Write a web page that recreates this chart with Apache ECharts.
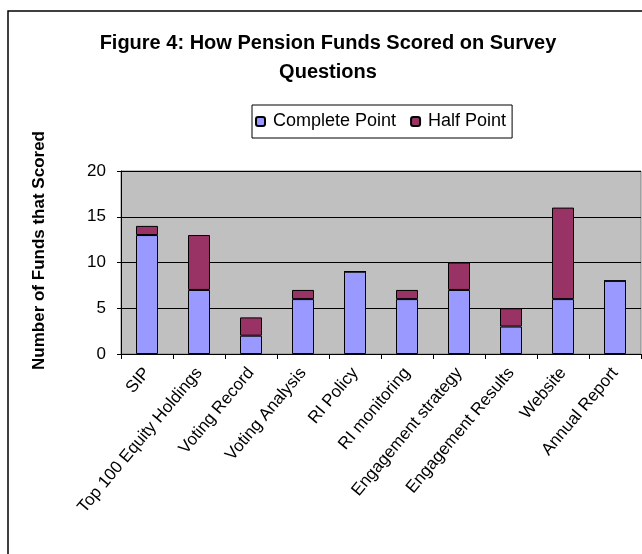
<!DOCTYPE html>
<html>
<head>
<meta charset="utf-8">
<script src="https://cdn.jsdelivr.net/npm/echarts@6/dist/echarts.min.js"></script>
<style>
  html, body { margin: 0; padding: 0; background: #ffffff; }
  #chart { width: 642px; height: 554px; }
</style>
</head>
<body>
<div id="chart"></div>
<script>
// Survey questions and how many funds scored on each
const categories = ['SIP', 'Top 100 Equity Holdings', 'Voting Record', 'Voting Analysis', 'RI Policy',
  'RI monitoring', 'Engagement strategy', 'Engagement Results', 'Website', 'Annual Report'];
const completePoint = [13, 7, 2, 6, 9, 6, 7, 3, 6, 8];
const halfPoint = [1, 6, 2, 1, 0, 1, 3, 2, 10, 0];
const yTicks = [0, 5, 10, 15, 20];

const FONT = '"Liberation Sans", Arial, sans-serif';

const chart = echarts.init(document.getElementById('chart'), null, { renderer: 'canvas' });

chart.setOption({
  backgroundColor: '#ffffff',
  animation: false,
  graphic: [{
    type: 'rect',
    shape: { x: 8, y: 11, width: 700, height: 600 },
    style: { fill: 'none', stroke: '#000000', lineWidth: 1.5 },
    silent: true
  }],
  title: {
    text: 'Figure 4: How Pension Funds Scored on Survey\nQuestions',
    left: 323,
    textAlign: 'center',
    top: 24,
    textStyle: {
      fontFamily: FONT, fontWeight: 'bold', fontSize: 20, color: '#000000', lineHeight: 29
    }
  },
  legend: {
    left: 252,
    top: 105,
    data: ['Complete Point', 'Half Point'],
    itemWidth: 9,
    itemHeight: 9,
    itemGap: 14,
    padding: [6, 6, 6, 3],
    borderColor: '#000000',
    borderWidth: 1,
    backgroundColor: '#ffffff',
    textStyle: { fontFamily: FONT, fontSize: 18, color: '#000000', lineHeight: 21, padding: [0, 0, 0, 3] }
  },
  grid: {
    left: 121,
    right: 1,
    top: 171,
    bottom: 200,
    show: true,
    backgroundColor: '#C0C0C0',
    borderColor: '#808080',
    borderWidth: 1,
    containLabel: false
  },
  xAxis: {
    type: 'category',
    data: categories,
    axisLine: { show: true, lineStyle: { color: '#000000', width: 1 } },
    axisTick: { show: true, alignWithLabel: false, length: 5, lineStyle: { color: '#000000' } },
    axisLabel: {
      rotate: 50, interval: 0, margin: 16,
      fontFamily: FONT, fontSize: 17, color: '#000000'
    },
    splitLine: { show: false }
  },
  yAxis: {
    type: 'value',
    min: yTicks[0],
    max: yTicks[yTicks.length - 1],
    interval: yTicks[1] - yTicks[0],
    name: 'Number of Funds that Scored',
    nameLocation: 'middle',
    nameRotate: 90,
    nameGap: 73,
    nameTextStyle: {
      fontFamily: FONT, fontWeight: 'bold', fontSize: 17, color: '#000000',
      padding: [0, 0, 0, 24]
    },
    axisLine: { show: true, lineStyle: { color: '#000000', width: 1 } },
    axisTick: { show: true, inside: false, length: 4, lineStyle: { color: '#000000' } },
    axisLabel: { fontFamily: FONT, fontSize: 17, color: '#000000', margin: 15 },
    splitLine: { show: true, lineStyle: { color: '#000000', width: 1 } }
  },
  series: [
    {
      name: 'Complete Point',
      type: 'bar',
      stack: 'score',
      barWidth: 22,
      data: completePoint,
      itemStyle: { color: '#9999FF', borderColor: '#000000', borderWidth: 1 }
    },
    {
      name: 'Half Point',
      type: 'bar',
      stack: 'score',
      barWidth: 22,
      data: halfPoint,
      itemStyle: { color: '#993366', borderColor: '#000000', borderWidth: 1 }
    }
  ]
});
</script>
</body>
</html>
